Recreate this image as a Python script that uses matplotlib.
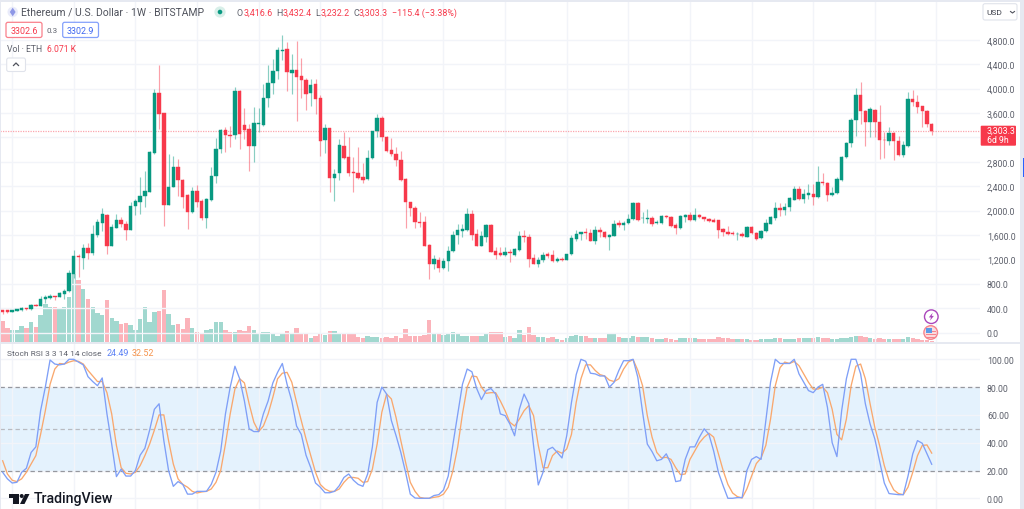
import matplotlib
matplotlib.use('Agg')
import matplotlib.pyplot as plt
from matplotlib.patches import Circle, FancyBboxPatch, Polygon, Rectangle

# weekly candles
opens = [363, 363, 341, 358, 363, 396, 385, 456, 440, 544,
         565, 598, 582, 631, 675, 964, 1248, 1227, 1390, 1303,
         1604, 1800, 1931, 1423, 1718, 1844, 1778, 1680, 2068, 2145,
         2237, 2308, 2943, 3932, 3593, 2090, 2385, 2708, 2505, 2254,
         1970, 2319, 2155, 1871, 2172, 2560, 3008, 3320, 3238, 3238,
         3953, 3402, 3336, 3052, 3424, 3407, 3844, 4085, 4292, 4620,
         4647, 4259, 4309, 4199, 4139, 3921, 4074, 3839, 3150, 3347,
         2533, 2615, 3052, 2872, 2626, 2615, 2550, 2511, 2855, 3298,
         3517, 3211, 2987, 2921, 2834, 2522, 2140, 2041, 1812, 1806,
         1429, 1118, 1189, 1058, 1167, 1331, 1599, 1664, 1686, 1938,
         1620, 1424, 1571, 1763, 1331, 1304, 1271, 1320, 1276, 1348,
         1588, 1566, 1222, 1123, 1184, 1282, 1271, 1178, 1211, 1194,
         1282, 1528, 1620, 1642, 1632, 1500, 1675, 1648, 1571, 1582,
         1790, 1768, 1790, 1856, 2123, 1872, 1866, 1872, 1795, 1795,
         1916, 1894, 1757, 1708, 1899, 1932, 1845, 1921, 1888, 1861,
         1850, 1839, 1692, 1654, 1637, 1610, 1615, 1566, 1730, 1637,
         1544, 1659, 1785, 1883, 2036, 2003, 2058, 2178, 2353, 2189,
         2260, 2276, 2222, 2468, 2451, 2255, 2282, 2500, 2877, 3107,
         3484, 3888, 3637, 3446, 3653, 3457, 3162, 3145, 3265, 3140,
         2916, 3058, 3823, 3785, 3708, 3632, 3416.6]
highs = [374, 374, 374, 391, 418, 407, 467, 473, 593, 615,
         626, 604, 669, 713, 1019, 1352, 1287, 1445, 1467, 1762,
         1860, 2046, 1942, 1778, 1942, 1888, 1833, 2145, 2188, 2543,
         2653, 2981, 3992, 4385, 3593, 2926, 2899, 2844, 2516, 2271,
         2379, 2418, 2188, 2199, 2707, 3183, 3336, 3363, 3391, 4025,
         3981, 3686, 3418, 3691, 3675, 4074, 4385, 4483, 4686, 4877,
         4768, 4565, 4784, 4494, 4167, 4156, 4156, 3893, 3418, 3347,
         2680, 3172, 3282, 3200, 2872, 3047, 2779, 2992, 3309, 3582,
         3555, 3227, 3183, 3036, 2970, 2528, 2145, 2080, 1981, 1916,
         1451, 1276, 1233, 1222, 1424, 1670, 1779, 1779, 2036, 2009,
         1697, 1670, 1779, 1779, 1397, 1397, 1397, 1369, 1380, 1670,
         1681, 1615, 1287, 1233, 1315, 1315, 1347, 1233, 1233, 1287,
         1604, 1681, 1653, 1708, 1697, 1741, 1724, 1670, 1615, 1850,
         1850, 1834, 1943, 2134, 2134, 1970, 2025, 1916, 1845, 1927,
         1927, 1916, 1790, 1927, 1943, 1981, 2036, 1938, 1899, 1878,
         1872, 1850, 1708, 1741, 1670, 1654, 1654, 1752, 1752, 1654,
         1675, 1861, 1905, 2145, 2123, 2123, 2216, 2408, 2397, 2353,
         2440, 2429, 2724, 2615, 2462, 2391, 2544, 2899, 3129, 3522,
         4009, 4101, 3642, 3692, 3664, 3730, 3282, 3364, 3282, 3216,
         3145, 3937, 3970, 3894, 3719, 3642, 3432.4]
lows = [309, 325, 330, 352, 358, 374, 374, 429, 429, 483,
        549, 538, 576, 549, 669, 888, 915, 1041, 1205, 1270,
        1571, 1658, 1292, 1418, 1707, 1724, 1516, 1675, 1931, 1948,
        2063, 2298, 2932, 3336, 1741, 2090, 2385, 2243, 2036, 1697,
        1959, 2052, 1844, 1718, 2150, 2445, 2943, 2954, 3036, 3172,
        3008, 3172, 2653, 2790, 3281, 3391, 3702, 3910, 4156, 4467,
        3964, 3910, 3473, 3839, 3647, 3719, 3582, 2899, 2937, 2309,
        2161, 2500, 2844, 2571, 2309, 2517, 2446, 2506, 2844, 3211,
        3145, 2954, 2888, 2724, 2489, 1708, 1905, 1708, 1724, 1418,
        877, 1041, 998, 1041, 1009, 1325, 1451, 1560, 1670, 1522,
        1413, 1418, 1490, 1315, 1205, 1260, 1260, 1162, 1260, 1336,
        1479, 1080, 1118, 1069, 1151, 1222, 1162, 1151, 1178, 1189,
        1276, 1506, 1522, 1533, 1495, 1451, 1560, 1550, 1358, 1577,
        1724, 1686, 1779, 1850, 1828, 1790, 1790, 1741, 1779, 1784,
        1872, 1724, 1621, 1697, 1817, 1828, 1828, 1872, 1834, 1807,
        1807, 1550, 1588, 1604, 1599, 1522, 1561, 1561, 1621, 1517,
        1533, 1654, 1774, 1850, 1916, 1932, 1992, 2167, 2173, 2123,
        2189, 2096, 2211, 2424, 2162, 2244, 2266, 2484, 2867, 3041,
        3227, 3418, 3063, 3200, 3200, 2845, 2861, 3074, 2828, 2888,
        2877, 3047, 3719, 3593, 3364, 3364, 3232.2]
closes = [336, 341, 363, 380, 402, 385, 456, 440, 549, 576,
          598, 582, 642, 686, 975, 1248, 1232, 1390, 1303, 1609,
          1806, 1937, 1412, 1729, 1844, 1784, 1680, 2074, 2150, 2232,
          2319, 2954, 3932, 3582, 2096, 2385, 2713, 2500, 2221, 1970,
          2319, 2134, 1871, 2194, 2560, 3008, 3320, 3238, 3227, 3953,
          3254, 3320, 3063, 3429, 3434, 3844, 4085, 4287, 4626, 4637,
          4265, 4309, 4194, 4134, 3915, 4057, 3828, 3145, 3347, 2533,
          2598, 3074, 2861, 2615, 2620, 2539, 2506, 2861, 3298, 3517,
          3200, 2981, 2921, 2823, 2506, 2134, 2036, 1806, 1801, 1424,
          1118, 1205, 1063, 1167, 1336, 1599, 1675, 1697, 1938, 1604,
          1424, 1577, 1768, 1325, 1276, 1271, 1315, 1309, 1364, 1588,
          1566, 1211, 1123, 1189, 1271, 1260, 1173, 1211, 1189, 1282,
          1550, 1620, 1642, 1626, 1500, 1686, 1642, 1560, 1593, 1779,
          1768, 1795, 1856, 2123, 1850, 1877, 1877, 1784, 1812, 1916,
          1888, 1741, 1708, 1916, 1932, 1839, 1927, 1888, 1856, 1828,
          1817, 1675, 1648, 1621, 1610, 1621, 1577, 1730, 1632, 1533,
          1664, 1790, 1894, 2036, 2003, 2058, 2200, 2353, 2189, 2266,
          2282, 2222, 2473, 2446, 2255, 2287, 2511, 2883, 3112, 3489,
          3888, 3637, 3451, 3664, 3457, 3156, 3156, 3265, 3134, 2910,
          3069, 3828, 3785, 3703, 3626, 3424, 3303.3]

# volume in thousands of ETH
volume = [126, 80, 68, 70, 92, 80, 116, 90, 160, 226,
          210, 206, 202, 210, 266, 406, 368, 316, 254, 206,
          174, 162, 250, 140, 124, 108, 112, 100, 70, 136,
          206, 116, 178, 186, 308, 166, 100, 108, 76, 142,
          82, 56, 54, 70, 74, 116, 118, 68, 56, 56,
          72, 64, 96, 68, 44, 56, 56, 48, 34, 44,
          64, 52, 80, 48, 52, 24, 36, 46, 40, 64,
          64, 48, 44, 44, 44, 28, 20, 34, 30, 30,
          24, 28, 24, 32, 24, 76, 32, 36, 34, 42,
          128, 50, 46, 42, 54, 56, 54, 34, 36, 36,
          34, 34, 44, 56, 60, 60, 30, 36, 22, 68,
          38, 88, 38, 30, 30, 22, 28, 16, 12, 20,
          36, 40, 32, 32, 24, 24, 24, 22, 46, 52,
          26, 24, 22, 34, 30, 26, 28, 24, 14, 16,
          24, 18, 12, 20, 20, 24, 20, 18, 16, 16,
          18, 26, 24, 22, 18, 16, 18, 14, 12, 12,
          14, 16, 14, 20, 22, 16, 18, 18, 20, 20,
          20, 22, 28, 20, 20, 18, 18, 20, 24, 30,
          34, 32, 28, 20, 18, 20, 18, 16, 16, 16,
          18, 30, 20, 14, 12, 10, 6.071]

stoch_k = [18.7, 14, 11, 11.5, 18.7, 21.6, 33, 37, 63, 80,
           99.5, 96.6, 96, 96.6, 100, 100, 98, 96, 87.5, 84,
           81, 86.6, 60.7, 39, 15.6, 21, 16, 16, 20, 31,
           36, 49, 64, 68, 41.5, 20, 8.6, 12, 10, 3,
           3, 5, 5, 5, 10, 18.7, 34, 60.7, 80, 95,
           86, 70, 50, 48, 48, 60.7, 70, 83, 90.6, 97,
           82, 70, 52, 46, 31, 22, 11, 8, 4, 4,
           5, 9, 15, 17.5, 13, 10, 8.6, 17.5, 37, 69,
           80, 75, 56, 45, 33, 18.7, 3, 0.2, 0, 0,
           0, 2, 2.6, 6, 16, 39, 60.7, 82, 93, 91,
           79, 71, 77.5, 79, 75, 60.7, 59.5, 53.5, 45, 64,
           75, 68, 38, 9.6, 18.7, 35, 36.7, 33, 29, 45,
           69, 89, 100, 98.6, 90, 89.5, 88, 88, 80, 83.5,
           92, 99, 99, 100, 87, 62, 39, 33.6, 27, 28,
           32, 24.7, 12, 12.7, 28, 37, 37, 44, 50, 46,
           34, 18.7, 9, 0, 0, 0.5, 0.5, 20, 28, 30,
           28, 56, 83.5, 100, 97, 97, 97, 100, 89.5, 83.5,
           77.5, 76, 80, 82, 65.5, 40, 30, 63, 86, 100,
           100, 89.5, 68, 53.5, 42.7, 27, 11, 3.4, 3, 2.6,
           2.6, 16, 32, 41.5, 39.6, 32, 24.49]
stoch_d = [27, 17.5, 13, 12, 14, 18.7, 24.7, 30.7, 46, 63,
           82, 93, 97, 96.6, 98, 99, 98.5, 96.6, 92, 88,
           84, 84, 76, 60.7, 38, 22, 18, 17.5, 18.7, 23.5,
           30.7, 39, 49, 60, 60, 41.5, 24.7, 14, 10, 8,
           5, 3.8, 4.6, 5, 6.7, 11.5, 20, 39, 60.7, 78.6,
           86, 83, 68, 54.7, 48, 52, 60.7, 72.7, 86, 90,
           90.6, 83.5, 69, 56, 42.7, 30.7, 18.7, 10, 6.7, 5,
           5, 6.7, 11.5, 15, 15, 14.4, 11.5, 12, 21, 39,
           62, 75, 71.5, 58, 41.5, 26, 11.5, 5, 0.7, 0,
           0, 0.7, 1.2, 3, 8, 20, 37, 60.7, 80, 88,
           87.5, 80, 75.5, 76, 76, 70, 63, 54.7, 52, 57,
           63, 66.7, 59.5, 38, 22, 22, 30.7, 34, 32.4, 35.5,
           46, 69, 86, 96, 96, 92, 89, 88, 85, 84,
           86, 93, 98, 99.8, 92, 81, 59.5, 44, 33, 29,
           29.5, 28, 22, 17, 17.5, 28, 34, 40, 44, 46.8,
           44, 32, 20, 10, 3.8, 1.2, 0.2, 6.7, 16, 25,
           29, 38, 57, 81, 94, 98, 97, 98.5, 95.4, 89.5,
           83.5, 78.6, 78.6, 80, 76, 64, 46, 42, 57, 81,
           95, 96.6, 86, 68, 51, 38, 23.5, 12.7, 6, 3.4,
           2.6, 8, 18.7, 30.7, 38, 38.4, 32.52]

price_ticks = [0, 400, 800, 1200, 1600, 2000, 2400, 2800, 3600, 4000, 4400, 4800]
price_grid = [0, 400, 800, 1200, 1600, 2000, 2400, 2800, 3200, 3600, 4000, 4400, 4800]
stoch_ticks = [0, 20, 40, 60, 80, 100]
last_price = 3303.3

GREEN = '#089981'
RED = '#f7394b'
GRID = '#f2f4f9'
TEXT = '#5d606b'
BLUE_LINE = '#7f9ff7'
ORANGE_LINE = '#f9a86e'
STRIP = '#e6e9f1'

plt.rcParams['font.family'] = ['Roboto', 'DejaVu Sans']
W, H = 1024, 510
fig = plt.figure(figsize=(W / 100, H / 100), dpi=100, facecolor='white')


def pane(left, top, right, bottom, zorder=1):
    # pane rectangle given in picture pixels
    return fig.add_axes([left / W, 1 - bottom / H, (right - left) / W, (bottom - top) / H], zorder=zorder)


idx = list(range(len(closes)))
# one candle is 4.74 px wide, the first one sits at x = 2.67 px
x_lim = (-2.67 / 4.74, (980 - 2.67) / 4.74)
grid_idx = list(range(2, 200, 13))
up = [c >= o for o, c in zip(opens, closes)]

# volume sits under the candles with its own scale
ax_vol = pane(0, 3, 980, 342.7, zorder=1)
ax_vol.bar(idx, volume, width=0.92, color=[GREEN if u else RED for u in up], alpha=0.38, linewidth=0)
ax_vol.set_xlim(x_lim)
ax_vol.set_ylim(0, 339.7 * 6)
ax_vol.axis('off')

ax = pane(0, 3, 980, 342.7, zorder=2)
ax.patch.set_alpha(0)
ax.vlines(idx, lows, highs, colors=[GREEN if u else RED for u in up], linewidth=0.85, alpha=0.48, zorder=3)
ax.bar(idx, [abs(c - o) for o, c in zip(opens, closes)], bottom=[min(o, c) for o, c in zip(opens, closes)],
       width=0.72, color=[GREEN if u else RED for u in up], edgecolor=[GREEN if u else RED for u in up],
       linewidth=0.3, zorder=4)
ax.axhline(last_price, color=RED, linewidth=0.9, linestyle=(0, (1, 1)), alpha=0.45, zorder=2)
ax.set_xlim(x_lim)
ax.set_ylim((333.5 - 342.7) / 0.061, (333.5 - 3) / 0.061)
ax.set_xticks(grid_idx)
ax.set_yticks(price_grid)
ax.set_yticklabels(['' if p not in price_ticks else f'{p:,.1f}' for p in price_grid])
ax.tick_params(axis='x', length=0, labelbottom=False)
ax.yaxis.tick_right()
ax.tick_params(axis='y', length=0, pad=5, labelsize=6.3, labelcolor=TEXT)
ax.grid(True, color=GRID, linewidth=1)
ax.set_axisbelow(True)
for s in ax.spines.values():
    s.set_visible(False)

ax_st = pane(0, 344.5, 980, 510, zorder=2)
ax_st.axhspan(20, 80, color='#e4f2fd', zorder=0, linewidth=0)
for level, col in [(80, '#96989f'), (50, '#b9bbc1'), (20, '#96989f')]:
    ax_st.axhline(level, color=col, linewidth=0.9, linestyle=(0, (3.5, 2.5)), zorder=2)
ax_st.plot(idx, stoch_d, color=ORANGE_LINE, linewidth=0.95, zorder=3)
ax_st.plot(idx, stoch_k, color=BLUE_LINE, linewidth=0.95, zorder=4)
ax_st.set_xlim(x_lim)
ax_st.set_ylim((499.3 - 510) / 1.39, (499.3 - 344.5) / 1.39)
ax_st.set_xticks(grid_idx)
ax_st.set_yticks(stoch_ticks)
ax_st.set_yticklabels([f'{v:.2f}' for v in stoch_ticks])
ax_st.tick_params(axis='x', length=0, labelbottom=False)
ax_st.yaxis.tick_right()
ax_st.tick_params(axis='y', length=0, pad=5, labelsize=6.3, labelcolor=TEXT)
ax_st.grid(True, color=GRID, linewidth=1)
ax_st.set_axisbelow(True)
for s in ax_st.spines.values():
    s.set_visible(False)

# everything around the panes is drawn in picture pixels
ui = fig.add_axes([0, 0, 1, 1], zorder=5)
ui.set_xlim(0, W)
ui.set_ylim(H, 0)
ui.patch.set_alpha(0)
ui.axis('off')


def label(x, y, s, color=TEXT, size=6.3, **kw):
    ui.text(x, y, s, color=color, fontsize=size, va='center', ha=kw.pop('ha', 'left'), **kw)


def rbox(x0, y0, x1, y1, edge, face='white', lw=0.9, rad=2):
    ui.add_patch(FancyBboxPatch((x0, y0), x1 - x0, y1 - y0, boxstyle=f'round,pad=0,rounding_size={rad}',
                                edgecolor=edge, facecolor=face, linewidth=lw))


# frame strips of the widget
ui.add_patch(Rectangle((0, 0), W, 2.5, color=STRIP, linewidth=0))
ui.add_patch(Rectangle((0, 0), 1, H, color=STRIP, linewidth=0))
ui.add_patch(Rectangle((1020, 0), 4, H, color=STRIP, linewidth=0))
ui.add_patch(Rectangle((0, 342.7), 1020, 1.8, color=STRIP, linewidth=0))
ui.add_patch(Rectangle((1022.5, 159), 1.5, 19, color='#2962ff', linewidth=0))

# header
ui.add_patch(Circle((12.7, 13), 5.2, color='#e9ebfa', linewidth=0))
ui.add_patch(Polygon([(12.7, 8.7), (15.6, 13), (12.7, 17.3), (9.8, 13)], color='#8e97e6', linewidth=0))
label(21, 13, 'Ethereum / U.S. Dollar · 1W · BITSTAMP', size=7.5, color='#4f525c')
ui.add_patch(Circle((220, 13), 5.6, color='#d8efe9', linewidth=0))
ui.add_patch(Circle((220, 13), 2.3, color=GREEN, linewidth=0))
ohlc = [(236.7, 'O', '3,416.6', 244), (276, 'H', '3,432.4', 283), (315, 'L', '3,232.2', 320.5),
        (353, 'C', '3,303.3', 358.5)]
for x_key, key, val, x_val in ohlc:
    label(x_key, 13, key, size=6.4)
    label(x_val, 13, val, color=RED, size=6.4)
label(392, 13, '−115.4 (−3.38%)', color=RED, size=6.4)

rbox(6, 23.3, 42, 38.5, '#f9808b')
label(24, 31, '3302.6', color=RED, size=6.4, ha='center')
label(52.5, 31, '0.3', size=5.8, ha='center')
rbox(62.7, 23.3, 98.5, 38.5, '#84a0fb')
label(80.6, 31, '3302.9', color='#3d66f0', size=6.4, ha='center')
label(7, 50, 'Vol · ETH', size=6.2)
label(47, 50, '6.071 K', color=RED, size=6.2)
rbox(6.7, 59, 25.5, 72.5, '#e0e3eb', lw=0.8)
ui.plot([13.5, 16, 18.5], [66.5, 64, 66.5], color='#4f525c', linewidth=0.9)

# right hand scale extras
rbox(983, 4.7, 1017, 21, '#e0e3eb', lw=0.8)
label(986, 13, 'USD', color='#3c3f4a', size=6)
ui.plot([1010.5, 1012.5, 1014.5], [12.5, 14, 12.5], color='#4f525c', linewidth=0.8)
rbox(980.7, 126.7, 1016, 146.7, RED, face=RED, lw=0, rad=1)
label(986.7, 131.6, '3,303.3', color='white', size=6.3)
label(986.7, 141, '6d 9h', color='white', size=6.3)

# event markers
ui.add_patch(Circle((931.3, 317.7), 6.8, facecolor='white', edgecolor='#ab47bc', linewidth=1))
ui.add_patch(Polygon([(932.7, 313.7), (928.8, 318.4), (931, 318.4), (930, 321.7), (933.9, 316.9), (931.7, 316.9)],
                     color='#ab47bc', linewidth=0))
ui.add_patch(Circle((930.7, 333.5), 6.8, facecolor='#fbdcde', edgecolor='#f7838d', linewidth=1))
for y_s in (332, 335, 338):
    ui.add_patch(Rectangle((925.5, y_s), 10.5, 1.3, color='#f7838d', linewidth=0))
ui.add_patch(Rectangle((925.5, 329), 6, 4.8, color='#5b9be8', linewidth=0))

# stoch legend
label(7, 354, 'Stoch RSI 3 3 14 14 close', size=6.0)
label(106.7, 354, '24.49', color='#5d82f5', size=6.4)
label(131.7, 354, '32.52', color='#f5924b', size=6.4)

# watermark
ui.add_patch(Rectangle((8.5, 495), 10.5, 3.6, color='#131722', linewidth=0))
ui.add_patch(Rectangle((13.3, 495), 5.7, 10, color='#131722', linewidth=0))
ui.add_patch(Circle((21.7, 497), 2, color='#131722', linewidth=0))
ui.add_patch(Polygon([(25, 495), (29.5, 495), (24.5, 505), (20, 505)], color='#131722', linewidth=0))
label(34, 499.5, 'TradingView', color='#131722', size=10.2, fontweight='medium')

fig.savefig('out.png', dpi=100)
